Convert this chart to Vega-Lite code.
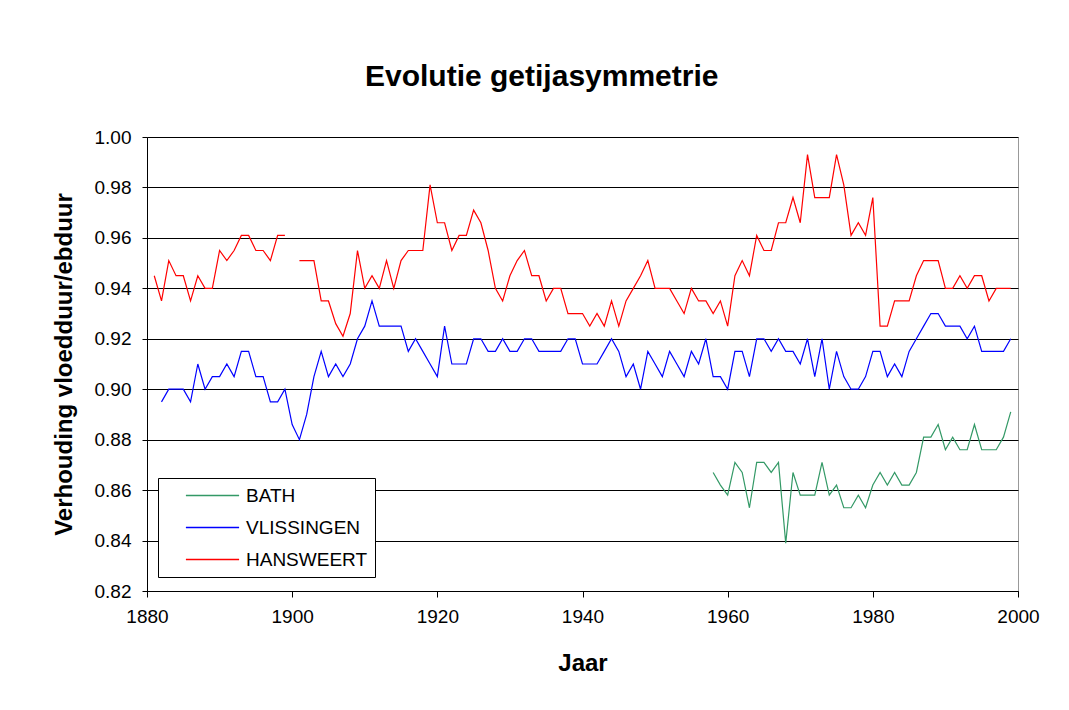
{
  "$schema": "https://vega.github.io/schema/vega-lite/v6.json",
  "width": 871,
  "height": 454,
  "autosize": {"type": "none"},
  "padding": {"left": 147, "top": 137, "right": 51, "bottom": 119},
  "background": "white",
  "title": {"text": "Evolutie getijasymmetrie", "anchor": "start", "frame": "group", "dx": 218, "offset": 36, "fontSize": 30, "font": "Liberation Sans", "fontWeight": "bold", "color": "black"},
  "data": {"values": [
    {"Jaar":1881,"HANSWEERT":0.945},
    {"Jaar":1882,"HANSWEERT":0.935,"VLISSINGEN":0.895},
    {"Jaar":1883,"HANSWEERT":0.951,"VLISSINGEN":0.900},
    {"Jaar":1884,"HANSWEERT":0.945,"VLISSINGEN":0.900},
    {"Jaar":1885,"HANSWEERT":0.945,"VLISSINGEN":0.900},
    {"Jaar":1886,"HANSWEERT":0.935,"VLISSINGEN":0.895},
    {"Jaar":1887,"HANSWEERT":0.945,"VLISSINGEN":0.910},
    {"Jaar":1888,"HANSWEERT":0.940,"VLISSINGEN":0.900},
    {"Jaar":1889,"HANSWEERT":0.940,"VLISSINGEN":0.905},
    {"Jaar":1890,"HANSWEERT":0.955,"VLISSINGEN":0.905},
    {"Jaar":1891,"HANSWEERT":0.951,"VLISSINGEN":0.910},
    {"Jaar":1892,"HANSWEERT":0.955,"VLISSINGEN":0.905},
    {"Jaar":1893,"HANSWEERT":0.961,"VLISSINGEN":0.915},
    {"Jaar":1894,"HANSWEERT":0.961,"VLISSINGEN":0.915},
    {"Jaar":1895,"HANSWEERT":0.955,"VLISSINGEN":0.905},
    {"Jaar":1896,"HANSWEERT":0.955,"VLISSINGEN":0.905},
    {"Jaar":1897,"HANSWEERT":0.951,"VLISSINGEN":0.895},
    {"Jaar":1898,"HANSWEERT":0.961,"VLISSINGEN":0.895},
    {"Jaar":1899,"HANSWEERT":0.961,"VLISSINGEN":0.900},
    {"Jaar":1900,"VLISSINGEN":0.886},
    {"Jaar":1901,"HANSWEERT":0.951,"VLISSINGEN":0.880},
    {"Jaar":1902,"HANSWEERT":0.951,"VLISSINGEN":0.890},
    {"Jaar":1903,"HANSWEERT":0.951,"VLISSINGEN":0.905},
    {"Jaar":1904,"HANSWEERT":0.935,"VLISSINGEN":0.915},
    {"Jaar":1905,"HANSWEERT":0.935,"VLISSINGEN":0.905},
    {"Jaar":1906,"HANSWEERT":0.926,"VLISSINGEN":0.910},
    {"Jaar":1907,"HANSWEERT":0.921,"VLISSINGEN":0.905},
    {"Jaar":1908,"HANSWEERT":0.930,"VLISSINGEN":0.910},
    {"Jaar":1909,"HANSWEERT":0.955,"VLISSINGEN":0.920},
    {"Jaar":1910,"HANSWEERT":0.940,"VLISSINGEN":0.925},
    {"Jaar":1911,"HANSWEERT":0.945,"VLISSINGEN":0.935},
    {"Jaar":1912,"HANSWEERT":0.940,"VLISSINGEN":0.925},
    {"Jaar":1913,"HANSWEERT":0.951,"VLISSINGEN":0.925},
    {"Jaar":1914,"HANSWEERT":0.940,"VLISSINGEN":0.925},
    {"Jaar":1915,"HANSWEERT":0.951,"VLISSINGEN":0.925},
    {"Jaar":1916,"HANSWEERT":0.955,"VLISSINGEN":0.915},
    {"Jaar":1917,"HANSWEERT":0.955,"VLISSINGEN":0.920},
    {"Jaar":1918,"HANSWEERT":0.955,"VLISSINGEN":0.915},
    {"Jaar":1919,"HANSWEERT":0.981,"VLISSINGEN":0.910},
    {"Jaar":1920,"HANSWEERT":0.966,"VLISSINGEN":0.905},
    {"Jaar":1921,"HANSWEERT":0.966,"VLISSINGEN":0.925},
    {"Jaar":1922,"HANSWEERT":0.955,"VLISSINGEN":0.910},
    {"Jaar":1923,"HANSWEERT":0.961,"VLISSINGEN":0.910},
    {"Jaar":1924,"HANSWEERT":0.961,"VLISSINGEN":0.910},
    {"Jaar":1925,"HANSWEERT":0.971,"VLISSINGEN":0.920},
    {"Jaar":1926,"HANSWEERT":0.966,"VLISSINGEN":0.920},
    {"Jaar":1927,"HANSWEERT":0.955,"VLISSINGEN":0.915},
    {"Jaar":1928,"HANSWEERT":0.940,"VLISSINGEN":0.915},
    {"Jaar":1929,"HANSWEERT":0.935,"VLISSINGEN":0.920},
    {"Jaar":1930,"HANSWEERT":0.945,"VLISSINGEN":0.915},
    {"Jaar":1931,"HANSWEERT":0.951,"VLISSINGEN":0.915},
    {"Jaar":1932,"HANSWEERT":0.955,"VLISSINGEN":0.920},
    {"Jaar":1933,"HANSWEERT":0.945,"VLISSINGEN":0.920},
    {"Jaar":1934,"HANSWEERT":0.945,"VLISSINGEN":0.915},
    {"Jaar":1935,"HANSWEERT":0.935,"VLISSINGEN":0.915},
    {"Jaar":1936,"HANSWEERT":0.940,"VLISSINGEN":0.915},
    {"Jaar":1937,"HANSWEERT":0.940,"VLISSINGEN":0.915},
    {"Jaar":1938,"HANSWEERT":0.930,"VLISSINGEN":0.920},
    {"Jaar":1939,"HANSWEERT":0.930,"VLISSINGEN":0.920},
    {"Jaar":1940,"HANSWEERT":0.930,"VLISSINGEN":0.910},
    {"Jaar":1941,"HANSWEERT":0.925,"VLISSINGEN":0.910},
    {"Jaar":1942,"HANSWEERT":0.930,"VLISSINGEN":0.910},
    {"Jaar":1943,"HANSWEERT":0.925,"VLISSINGEN":0.915},
    {"Jaar":1944,"HANSWEERT":0.935,"VLISSINGEN":0.920},
    {"Jaar":1945,"HANSWEERT":0.925,"VLISSINGEN":0.915},
    {"Jaar":1946,"HANSWEERT":0.935,"VLISSINGEN":0.905},
    {"Jaar":1947,"HANSWEERT":0.940,"VLISSINGEN":0.910},
    {"Jaar":1948,"HANSWEERT":0.945,"VLISSINGEN":0.900},
    {"Jaar":1949,"HANSWEERT":0.951,"VLISSINGEN":0.915},
    {"Jaar":1950,"HANSWEERT":0.940,"VLISSINGEN":0.910},
    {"Jaar":1951,"HANSWEERT":0.940,"VLISSINGEN":0.905},
    {"Jaar":1952,"HANSWEERT":0.940,"VLISSINGEN":0.915},
    {"Jaar":1953,"HANSWEERT":0.935,"VLISSINGEN":0.910},
    {"Jaar":1954,"HANSWEERT":0.930,"VLISSINGEN":0.905},
    {"Jaar":1955,"HANSWEERT":0.940,"VLISSINGEN":0.915},
    {"Jaar":1956,"HANSWEERT":0.935,"VLISSINGEN":0.910},
    {"Jaar":1957,"HANSWEERT":0.935,"VLISSINGEN":0.920},
    {"Jaar":1958,"HANSWEERT":0.930,"VLISSINGEN":0.905,"BATH":0.867},
    {"Jaar":1959,"HANSWEERT":0.935,"VLISSINGEN":0.905,"BATH":0.862},
    {"Jaar":1960,"HANSWEERT":0.925,"VLISSINGEN":0.900,"BATH":0.858},
    {"Jaar":1961,"HANSWEERT":0.945,"VLISSINGEN":0.915,"BATH":0.871},
    {"Jaar":1962,"HANSWEERT":0.951,"VLISSINGEN":0.915,"BATH":0.867},
    {"Jaar":1963,"HANSWEERT":0.945,"VLISSINGEN":0.905,"BATH":0.853},
    {"Jaar":1964,"HANSWEERT":0.961,"VLISSINGEN":0.920,"BATH":0.871},
    {"Jaar":1965,"HANSWEERT":0.955,"VLISSINGEN":0.920,"BATH":0.871},
    {"Jaar":1966,"HANSWEERT":0.955,"VLISSINGEN":0.915,"BATH":0.867},
    {"Jaar":1967,"HANSWEERT":0.966,"VLISSINGEN":0.920,"BATH":0.871},
    {"Jaar":1968,"HANSWEERT":0.966,"VLISSINGEN":0.915,"BATH":0.839},
    {"Jaar":1969,"HANSWEERT":0.976,"VLISSINGEN":0.915,"BATH":0.867},
    {"Jaar":1970,"HANSWEERT":0.966,"VLISSINGEN":0.910,"BATH":0.858},
    {"Jaar":1971,"HANSWEERT":0.993,"VLISSINGEN":0.920,"BATH":0.858},
    {"Jaar":1972,"HANSWEERT":0.976,"VLISSINGEN":0.905,"BATH":0.858},
    {"Jaar":1973,"HANSWEERT":0.976,"VLISSINGEN":0.920,"BATH":0.871},
    {"Jaar":1974,"HANSWEERT":0.976,"VLISSINGEN":0.900,"BATH":0.858},
    {"Jaar":1975,"HANSWEERT":0.993,"VLISSINGEN":0.915,"BATH":0.862},
    {"Jaar":1976,"HANSWEERT":0.981,"VLISSINGEN":0.905,"BATH":0.853},
    {"Jaar":1977,"HANSWEERT":0.961,"VLISSINGEN":0.900,"BATH":0.853},
    {"Jaar":1978,"HANSWEERT":0.966,"VLISSINGEN":0.900,"BATH":0.858},
    {"Jaar":1979,"HANSWEERT":0.961,"VLISSINGEN":0.905,"BATH":0.853},
    {"Jaar":1980,"HANSWEERT":0.976,"VLISSINGEN":0.915,"BATH":0.862},
    {"Jaar":1981,"HANSWEERT":0.925,"VLISSINGEN":0.915,"BATH":0.867},
    {"Jaar":1982,"HANSWEERT":0.925,"VLISSINGEN":0.905,"BATH":0.862},
    {"Jaar":1983,"HANSWEERT":0.935,"VLISSINGEN":0.910,"BATH":0.867},
    {"Jaar":1984,"HANSWEERT":0.935,"VLISSINGEN":0.905,"BATH":0.862},
    {"Jaar":1985,"HANSWEERT":0.935,"VLISSINGEN":0.915,"BATH":0.862},
    {"Jaar":1986,"HANSWEERT":0.945,"VLISSINGEN":0.920,"BATH":0.867},
    {"Jaar":1987,"HANSWEERT":0.951,"VLISSINGEN":0.925,"BATH":0.881},
    {"Jaar":1988,"HANSWEERT":0.951,"VLISSINGEN":0.930,"BATH":0.881},
    {"Jaar":1989,"HANSWEERT":0.951,"VLISSINGEN":0.930,"BATH":0.886},
    {"Jaar":1990,"HANSWEERT":0.940,"VLISSINGEN":0.925,"BATH":0.876},
    {"Jaar":1991,"HANSWEERT":0.940,"VLISSINGEN":0.925,"BATH":0.881},
    {"Jaar":1992,"HANSWEERT":0.945,"VLISSINGEN":0.925,"BATH":0.876},
    {"Jaar":1993,"HANSWEERT":0.940,"VLISSINGEN":0.920,"BATH":0.876},
    {"Jaar":1994,"HANSWEERT":0.945,"VLISSINGEN":0.925,"BATH":0.886},
    {"Jaar":1995,"HANSWEERT":0.945,"VLISSINGEN":0.915,"BATH":0.876},
    {"Jaar":1996,"HANSWEERT":0.935,"VLISSINGEN":0.915,"BATH":0.876},
    {"Jaar":1997,"HANSWEERT":0.940,"VLISSINGEN":0.915,"BATH":0.876},
    {"Jaar":1998,"HANSWEERT":0.940,"VLISSINGEN":0.915,"BATH":0.881},
    {"Jaar":1999,"HANSWEERT":0.940,"VLISSINGEN":0.920,"BATH":0.891}
  ]},
  "transform": [{"fold": ["BATH", "VLISSINGEN", "HANSWEERT"], "as": ["Station", "Verhouding"]}],
  "mark": {"type": "line", "strokeWidth": 1.2, "invalid": "break-paths-show-domains", "clip": true},
  "encoding": {
    "x": {
      "field": "Jaar", "type": "quantitative",
      "scale": {"domain": [1880, 2000], "nice": false, "zero": false},
      "axis": {
        "title": "Jaar", "values": [1880, 1900, 1920, 1940, 1960, 1980, 2000], "format": "d",
        "grid": false, "tickSize": 6, "tickColor": "black", "domainColor": "black",
        "labelFontSize": 19, "labelPadding": 10, "labelColor": "black", "labelFont": "Liberation Sans",
        "labelFlush": false, "labelOverlap": false,
        "titleFontSize": 24, "titleFont": "Liberation Sans", "titleFontWeight": "bold", "titleColor": "black",
        "titleY": 79, "titleBaseline": "alphabetic"
      }
    },
    "y": {
      "field": "Verhouding", "type": "quantitative",
      "scale": {"domain": [0.82, 1.0], "nice": false, "zero": false},
      "axis": {
        "title": "Verhouding vloedduur/ebduur", "values": [0.82, 0.84, 0.86, 0.88, 0.9, 0.92, 0.94, 0.96, 0.98, 1.0], "format": ".2f",
        "grid": true, "gridColor": "black", "gridWidth": 1, "gridOpacity": 1,
        "tickSize": 5, "tickColor": "black", "domainColor": "black",
        "labelFontSize": 19, "labelPadding": 11, "labelColor": "black", "labelFont": "Liberation Sans",
        "labelFlush": false, "labelOverlap": false,
        "titleFontSize": 24, "titleFont": "Liberation Sans", "titleFontWeight": "bold", "titleColor": "black",
        "titleX": -76, "titleY": 227, "titleAngle": -90, "titleBaseline": "alphabetic", "titleAlign": "center"
      }
    },
    "color": {
      "field": "Station", "type": "nominal",
      "scale": {"domain": ["BATH", "VLISSINGEN", "HANSWEERT"], "range": ["#339966", "#0000FF", "#FF0000"]},
      "legend": {
        "title": null, "orient": "none", "legendX": 11, "legendY": 341, "direction": "vertical",
        "fillColor": "white", "strokeColor": "black", "padding": 7, "cornerRadius": 0,
        "symbolType": "M-2.8,0H2.8", "symbolSize": 361, "symbolStrokeWidth": 1.5,
        "symbolOffset": 37, "labelOffset": 23, "rowPadding": 11,
        "labelFontSize": 19, "labelFont": "Liberation Sans", "labelColor": "black"
      }
    }
  },
  "config": {
    "font": "Liberation Sans",
    "view": {"stroke": "#999999", "strokeWidth": 1}
  }
}
